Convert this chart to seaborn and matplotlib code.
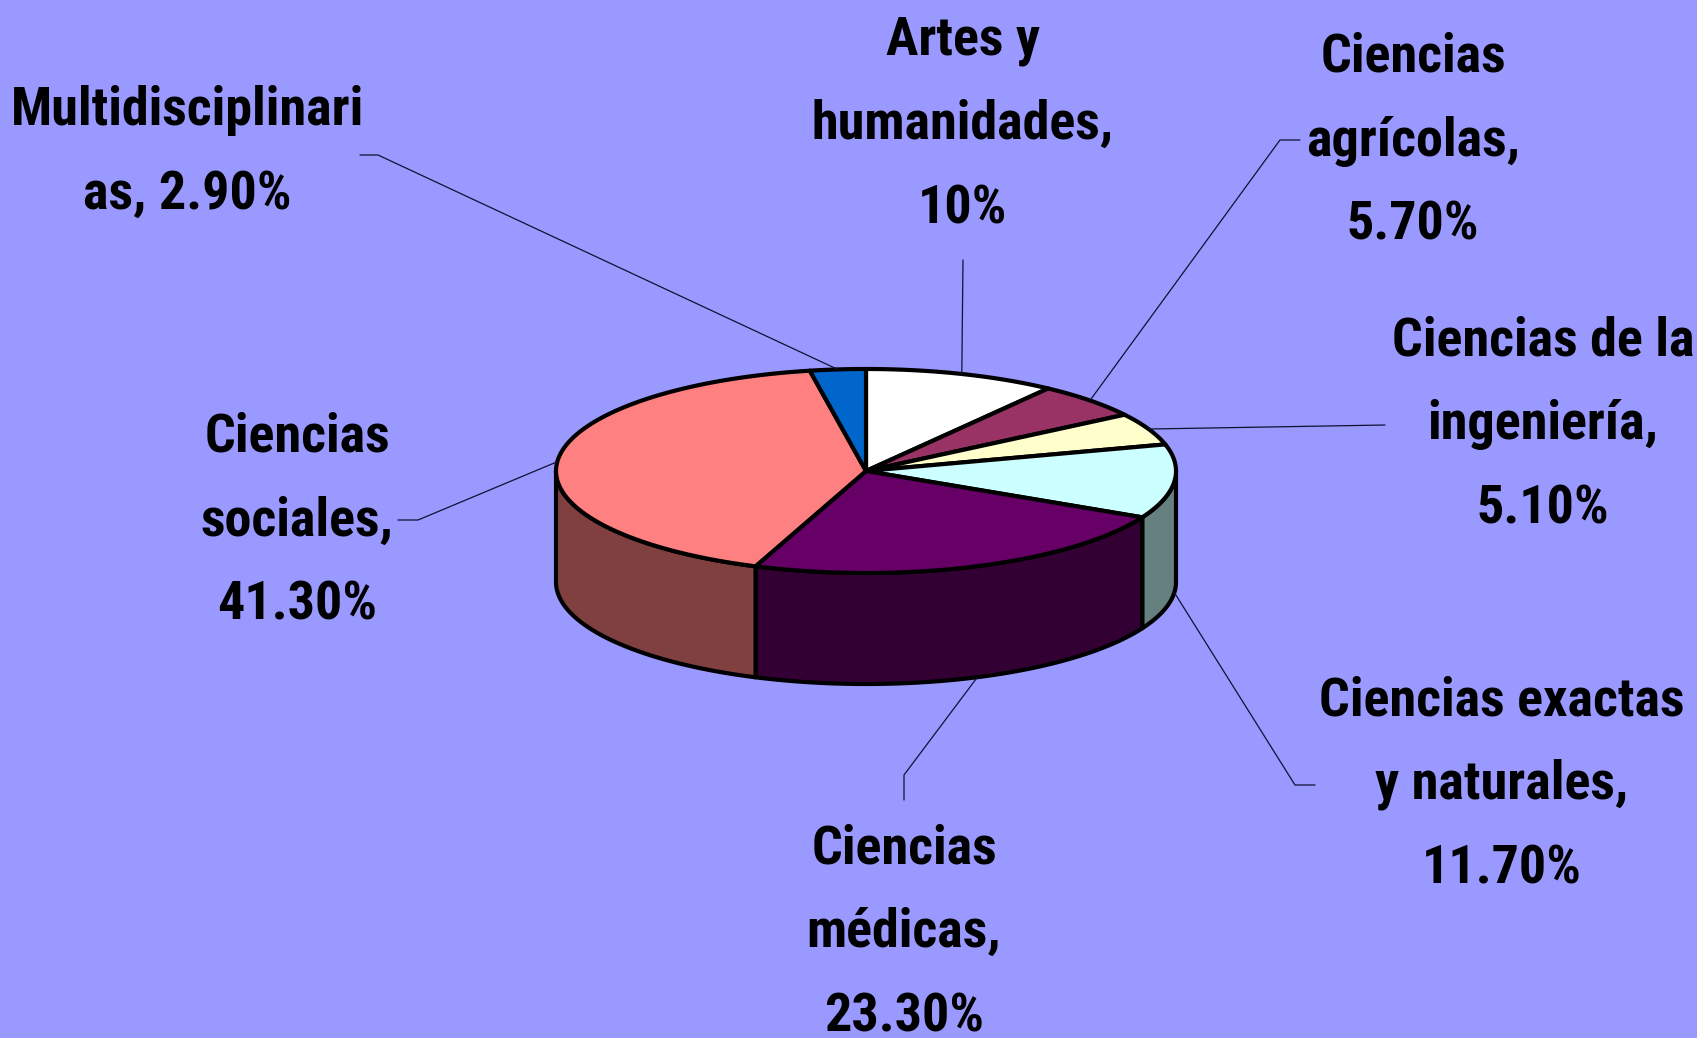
import numpy as np
import matplotlib
matplotlib.use("Agg")
import matplotlib.pyplot as plt
from matplotlib.patches import Polygon
from matplotlib import font_manager
import seaborn as sns

# datos (sentido horario desde las 12)
areas = ["Artes y humanidades", "Ciencias agrícolas", "Ciencias de la ingeniería",
         "Ciencias exactas y naturales", "Ciencias médicas", "Ciencias sociales",
         "Multidisciplinarias"]
valores = [10.0, 5.7, 5.1, 11.7, 23.3, 41.3, 2.9]
etiquetas = [
    "Artes y\nhumanidades,\n10%",
    "Ciencias\nagrícolas,\n5.70%",
    "Ciencias de la\ningeniería,\n5.10%",
    "Ciencias exactas\ny naturales,\n11.70%",
    "Ciencias\nmédicas,\n23.30%",
    "Ciencias\nsociales,\n41.30%",
    "Multidisciplinari\nas, 2.90%",
]
colores = ["#FFFFFF", "#993366", "#FFFFCC", "#CCFFFF", "#660066", "#FF8080", "#0066CC"]

# posiciones de etiquetas (centro x, primera línea base y) y codos de las guías
pos_texto = [(963, 55), (1413, 72), (1543, 355), (1502, 715), (904, 863), (297, 452), (187, 125)]
codos = [[(963, 260)],
         [(1280, 140), (1300, 140)],
         [(1385, 425)],
         [(1295, 785), (1315, 785)],
         [(904, 775), (904, 800)],
         [(418, 520), (398, 520)],
         [(378, 155), (360, 155)]]

W, H = 1697, 1038
cx, cy, rx, ry, prof = 866, 471, 310, 102, 111
fondo = "#9999FF"

sns.set_theme(style="white")
disponibles = {f.name for f in font_manager.fontManager.ttflist}
candidatas = ["Liberation Sans Narrow", "Arial Narrow", "Roboto Condensed",
              "Archivo Narrow", "PT Sans Narrow", "Asap Condensed", "Liberation Sans"]
fuente = next(f for f in candidatas if f in disponibles)
plt.rcParams["font.family"] = [fuente, "DejaVu Sans"]

fig = plt.figure(figsize=(W / 100, H / 100), dpi=100)
fig.patch.set_facecolor(fondo)
ax = fig.add_axes([0, 0, 1, 1])
ax.set_xlim(0, W)
ax.set_ylim(H, 0)
ax.set_facecolor(fondo)
ax.axis("off")


def punto(a, dy=0.0):
    t = np.deg2rad(90 - a)
    return cx + rx * np.cos(t), cy - ry * np.sin(t) + dy


def oscurecer(c):
    r, g, b = matplotlib.colors.to_rgb(c)
    return (r * 0.5, g * 0.5, b * 0.5)


limites = np.concatenate([[0], np.cumsum(valores)]) / sum(valores) * 360

# paredes laterales (solo la mitad frontal es visible)
for i, col in enumerate(colores):
    lo, hi = max(limites[i], 90), min(limites[i + 1], 270)
    if hi <= lo:
        continue
    aa = np.linspace(lo, hi, 80)
    arriba = [punto(a) for a in aa]
    abajo = [punto(a, prof) for a in aa[::-1]]
    ax.add_patch(Polygon(arriba + abajo, closed=True, facecolor=oscurecer(col),
                         edgecolor="black", lw=3, joinstyle="round"))

# caras superiores
for i, col in enumerate(colores):
    aa = np.linspace(limites[i], limites[i + 1], 100)
    pts = [(cx, cy)] + [punto(a) for a in aa]
    ax.add_patch(Polygon(pts, closed=True, facecolor=col, edgecolor="black",
                         lw=3, joinstyle="round"))

# guías y etiquetas
for i, txt in enumerate(etiquetas):
    m = (limites[i] + limites[i + 1]) / 2
    dy = prof if 90 < m < 270 else 0
    inicio = punto(m, dy)
    xs = [inicio[0]] + [p[0] for p in codos[i]]
    ys = [inicio[1]] + [p[1] for p in codos[i]]
    ax.plot(xs, ys, color="#111133", lw=0.9)
    x0, y0 = pos_texto[i]
    for k, linea in enumerate(txt.split("\n")):
        ax.text(x0, y0 + k * 84, linea, ha="center", va="baseline",
                fontsize=39, fontweight="bold", color="black")

fig.savefig("out.png", dpi=100, facecolor=fondo)
